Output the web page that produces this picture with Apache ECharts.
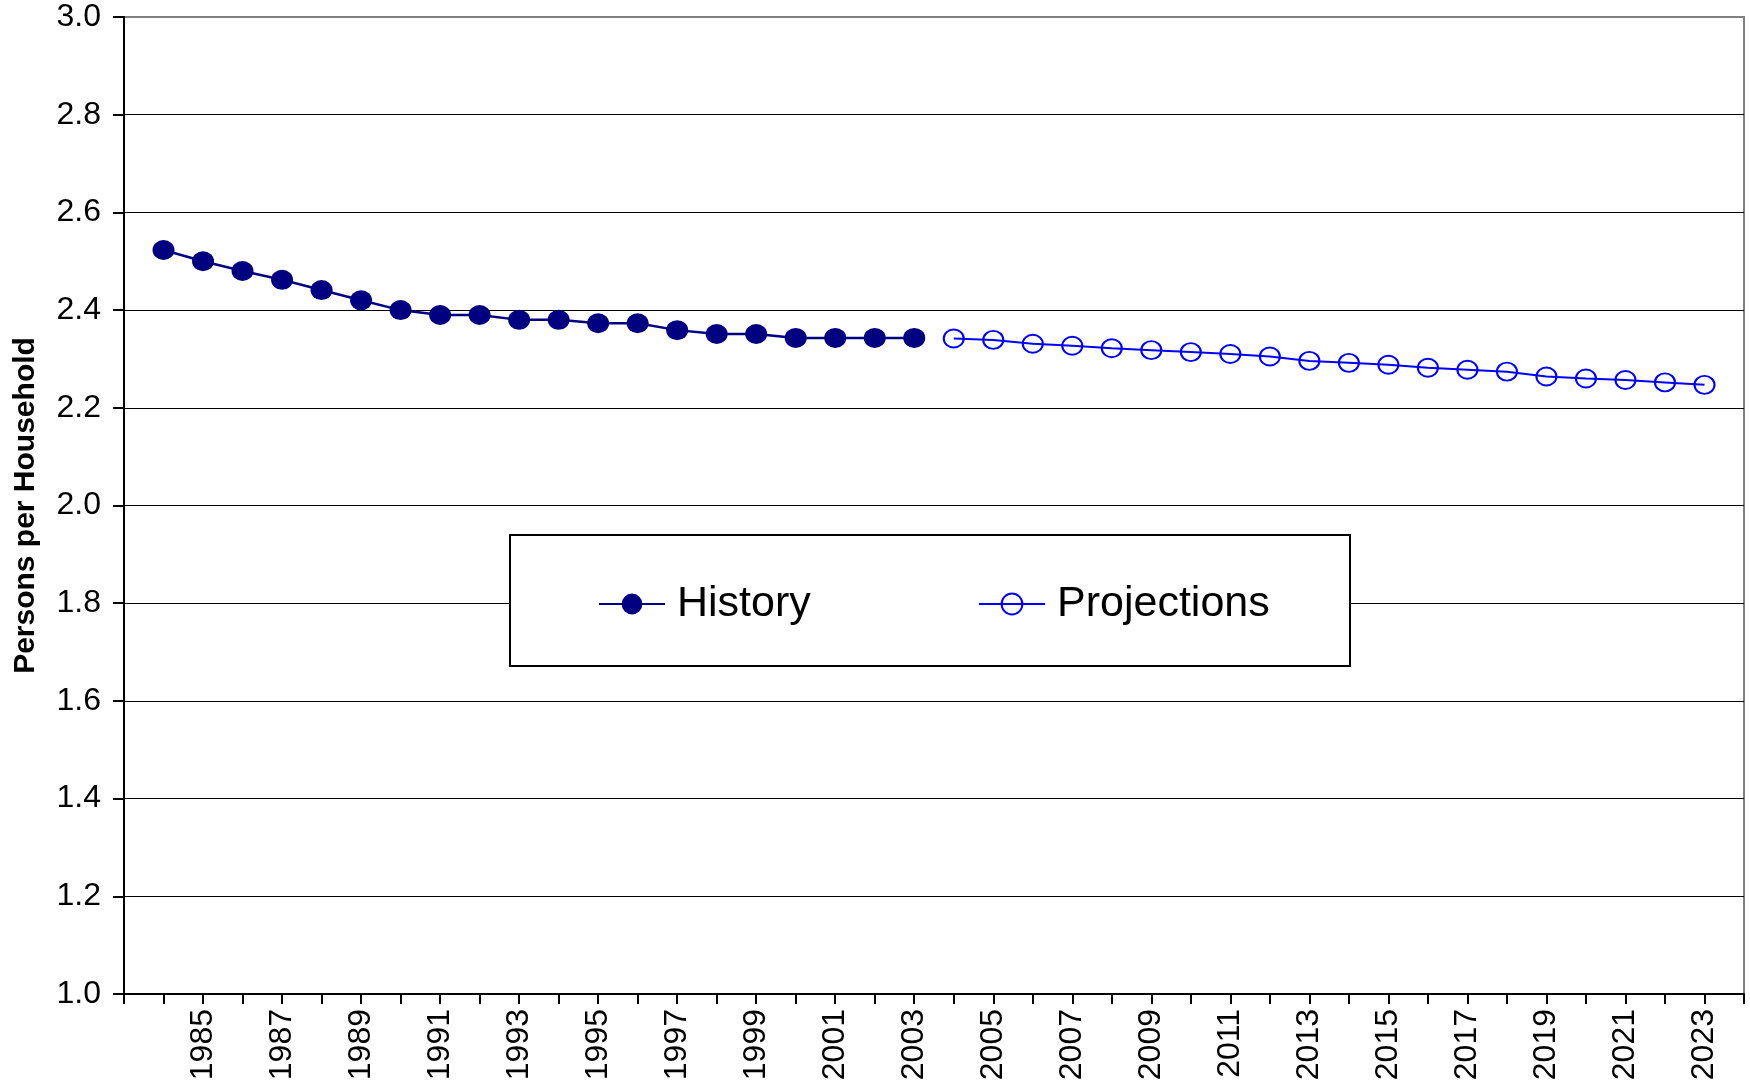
<!DOCTYPE html>
<html>
<head>
<meta charset="utf-8">
<script src="https://cdn.jsdelivr.net/npm/echarts@6/dist/echarts.min.js"></script>
<style>
  html, body { margin: 0; padding: 0; background: #fff; }
  #chart { width: 1750px; height: 1084px; }
</style>
</head>
<body>
<div id="chart"></div>
<script>
// Persons per household: history and projections
const historyYears = [1984, 1985, 1986, 1987, 1988, 1989, 1990, 1991, 1992, 1993,
                      1994, 1995, 1996, 1997, 1998, 1999, 2000, 2001, 2002, 2003];
const historyValues = [2.523, 2.500, 2.480, 2.462, 2.441, 2.420, 2.400, 2.390, 2.390, 2.380,
                       2.380, 2.373, 2.373, 2.359, 2.351, 2.351, 2.343, 2.343, 2.343, 2.343];

const projectionYears = [2004, 2005, 2006, 2007, 2008, 2009, 2010, 2011, 2012, 2013,
                         2014, 2015, 2016, 2017, 2018, 2019, 2020, 2021, 2022, 2023];
const projectionValues = [2.342, 2.339, 2.331, 2.327, 2.322, 2.318, 2.314, 2.310, 2.305, 2.296,
                          2.292, 2.288, 2.282, 2.278, 2.274, 2.264, 2.260, 2.257, 2.252, 2.247];

// Year labels printed under the axis
const yearLabels = [1985, 1987, 1989, 1991, 1993, 1995, 1997, 1999, 2001, 2003, 2005,
                    2007, 2009, 2011, 2013, 2015, 2017, 2019, 2021, 2023];

const FONT = "'Liberation Sans', Arial, sans-serif";

const chart = echarts.init(document.getElementById('chart'), null, { renderer: 'canvas' });

const pairs = (xs, ys) => xs.map((x, i) => [x, ys[i]]);

const legendText = { fontFamily: FONT, fontSize: 43, lineHeight: 50, color: '#000', padding: [0, 0, 0, 7] };

chart.setOption({
  animation: false,
  backgroundColor: '#ffffff',
  grid: {
    left: 124, top: 17, right: 6, bottom: 90,
    outerBoundsMode: 'none',
    containLabel: false,
    show: true, borderColor: '#808080', borderWidth: 2, backgroundColor: 'transparent'
  },
  xAxis: {
    type: 'value',
    min: 1983, max: 2024, interval: 1,
    axisLine: { show: true, onZero: false, lineStyle: { color: '#000', width: 2 } },
    axisTick: { show: true, length: 10, lineStyle: { color: '#000', width: 2 } },
    splitLine: { show: false },
    axisLabel: {
      rotate: 90,
      margin: 15,
      fontFamily: FONT,
      fontSize: 32,
      color: '#000',
      formatter: v => (yearLabels.indexOf(v) >= 0 ? String(v) : '')
    }
  },
  yAxis: {
    type: 'value',
    min: 1.0, max: 3.0, interval: 0.2,
    name: 'Persons per Household',
    nameLocation: 'middle',
    nameGap: 83,
    nameTextStyle: { fontFamily: FONT, fontSize: 30, fontWeight: 'bold', color: '#000' },
    axisLine: { show: true, lineStyle: { color: '#000', width: 2 } },
    axisTick: { show: true, length: 11, lineStyle: { color: '#000', width: 2 } },
    splitLine: { show: true, showMaxLine: false, lineStyle: { color: '#000', width: 1 } },
    axisLabel: {
      margin: 23,
      fontFamily: FONT,
      fontSize: 32,
      color: '#000',
      formatter: v => v.toFixed(1)
    }
  },
  graphic: [{
    type: 'rect',
    z: 3,
    shape: { x: 510, y: 535, width: 840, height: 131 },
    style: { fill: '#fff', stroke: '#000', lineWidth: 2 }
  }],
  legend: [
    {
      data: ['History'], left: 598, top: 579, padding: 0,
      itemWidth: 66, itemHeight: 26, z: 5,
      textStyle: legendText
    },
    {
      data: ['Projections'], left: 978, top: 579, padding: 0,
      itemWidth: 66, itemHeight: 26, z: 5,
      textStyle: legendText
    }
  ],
  series: [
    {
      name: 'History',
      type: 'line',
      data: pairs(historyYears, historyValues),
      symbol: 'circle',
      symbolSize: [22, 20],
      itemStyle: { color: '#000080' },
      lineStyle: { color: '#000080', width: 2.5 },
      z: 4
    },
    {
      name: 'Projections',
      type: 'line',
      data: pairs(projectionYears, projectionValues),
      symbol: 'circle',
      symbolSize: [20, 18],
      itemStyle: { color: 'rgba(255,255,255,0)', borderColor: '#0000ff', borderWidth: 2 },
      lineStyle: { color: '#0000ff', width: 2 },
      z: 4
    }
  ]
});
</script>
</body>
</html>
